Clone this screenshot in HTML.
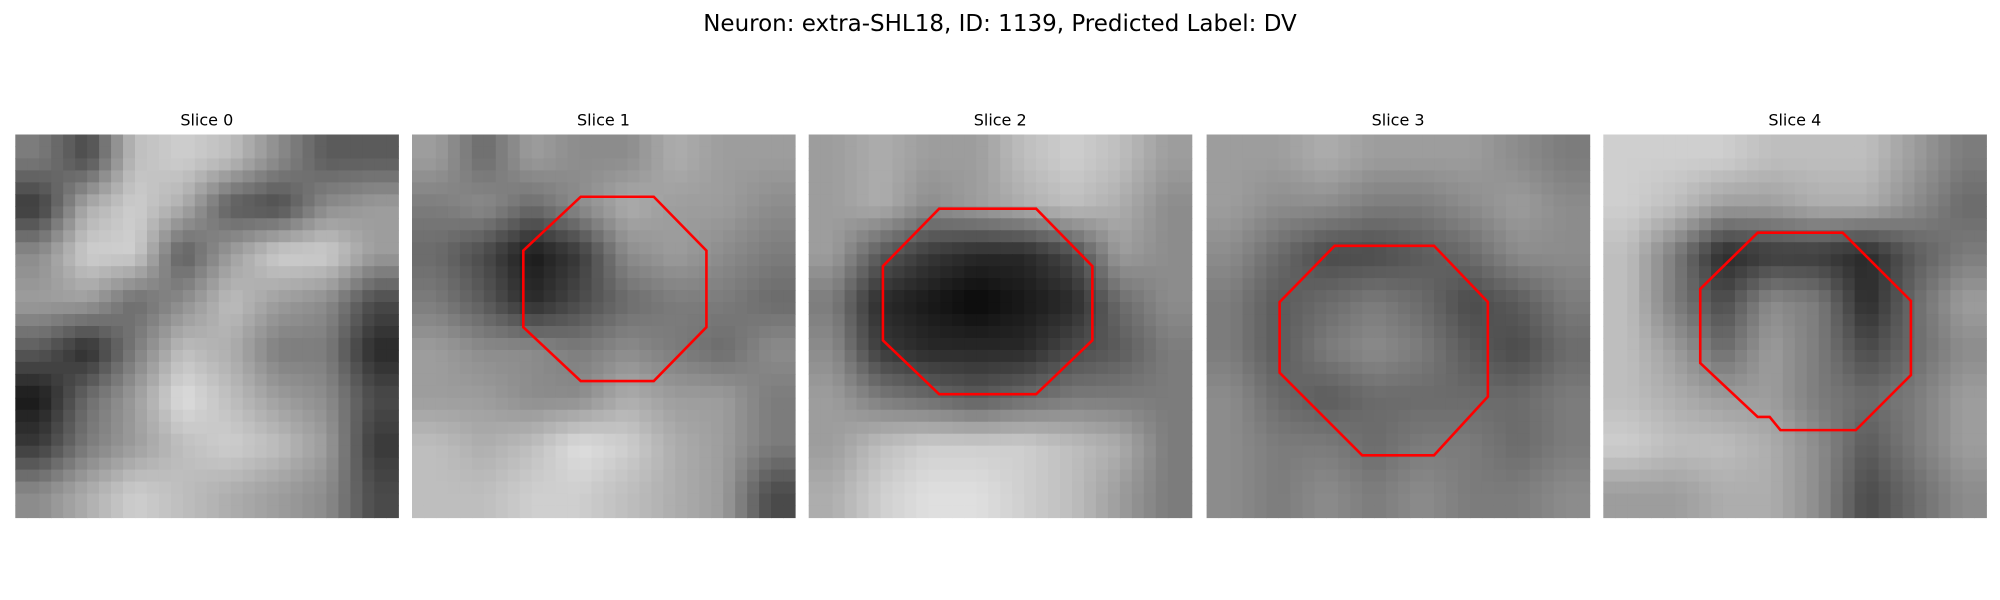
<!DOCTYPE html>
<html><head><meta charset="utf-8"><style>
html,body{margin:0;padding:0;background:#fff;width:2000px;height:600px;overflow:hidden;font-family:"Liberation Sans","DejaVu Sans",sans-serif;}
</style></head><body>
<svg id="fig" width="2000" height="600" xmlns="http://www.w3.org/2000/svg">
<text x="1000" y="31" text-anchor="middle" font-size="23" font-family="DejaVu Sans, Liberation Sans, sans-serif">Neuron: extra-SHL18, ID: 1139, Predicted Label: DV</text>
</svg>
<script>
const sliceTitles = ["Slice 0","Slice 1","Slice 2","Slice 3","Slice 4"];
const map0 = [[0.5,0.35,0.7,0.75,0.7,0.55,0.4,0.4],[0.3,0.65,0.75,0.65,0.4,0.35,0.55,0.6],[0.55,0.75,0.75,0.4,0.6,0.75,0.75,0.6],[0.6,0.6,0.45,0.55,0.7,0.6,0.55,0.35],[0.4,0.25,0.5,0.7,0.65,0.5,0.5,0.25],[0.2,0.45,0.6,0.8,0.7,0.6,0.55,0.35],[0.3,0.5,0.6,0.7,0.75,0.7,0.6,0.3],[0.55,0.65,0.75,0.7,0.65,0.6,0.55,0.35]];
const map1 = [[0.6,0.45,0.6,0.55,0.55,0.65,0.6,0.6],[0.5,0.55,0.45,0.55,0.65,0.6,0.6,0.55],[0.45,0.35,0.2,0.3,0.55,0.6,0.55,0.5],[0.5,0.4,0.25,0.35,0.45,0.5,0.5,0.45],[0.6,0.55,0.55,0.5,0.55,0.5,0.45,0.55],[0.6,0.6,0.55,0.55,0.65,0.6,0.6,0.5],[0.7,0.65,0.7,0.8,0.75,0.65,0.6,0.5],[0.7,0.7,0.75,0.75,0.7,0.65,0.6,0.35]];
const map2 = [[0.6,0.65,0.6,0.6,0.7,0.75,0.7,0.6],[0.6,0.65,0.55,0.6,0.65,0.7,0.65,0.55],[0.6,0.4,0.3,0.25,0.25,0.35,0.6,0.55],[0.5,0.25,0.2,0.15,0.2,0.25,0.45,0.55],[0.55,0.3,0.25,0.25,0.25,0.35,0.4,0.5],[0.6,0.5,0.45,0.4,0.45,0.5,0.5,0.5],[0.6,0.7,0.75,0.75,0.75,0.7,0.65,0.5],[0.65,0.75,0.8,0.8,0.75,0.7,0.6,0.5]];
const map3 = [[0.6,0.6,0.65,0.6,0.6,0.6,0.55,0.5],[0.6,0.55,0.55,0.5,0.5,0.55,0.6,0.55],[0.55,0.45,0.35,0.35,0.4,0.45,0.55,0.55],[0.5,0.4,0.45,0.5,0.45,0.35,0.4,0.5],[0.5,0.4,0.5,0.55,0.5,0.4,0.35,0.45],[0.55,0.45,0.4,0.45,0.45,0.45,0.45,0.5],[0.55,0.5,0.5,0.45,0.5,0.5,0.45,0.5],[0.55,0.5,0.55,0.5,0.55,0.5,0.5,0.55]];
const map4 = [[0.75,0.75,0.75,0.7,0.7,0.7,0.6,0.5],[0.75,0.7,0.6,0.6,0.65,0.65,0.55,0.45],[0.7,0.5,0.25,0.3,0.3,0.25,0.4,0.5],[0.7,0.5,0.35,0.55,0.5,0.25,0.45,0.6],[0.7,0.6,0.45,0.6,0.5,0.35,0.45,0.55],[0.7,0.65,0.6,0.6,0.5,0.45,0.5,0.6],[0.75,0.7,0.7,0.65,0.55,0.4,0.5,0.6],[0.6,0.6,0.65,0.65,0.55,0.35,0.45,0.55]];
const maps = [map0,map1,map2,map3,map4];
const contour1 = [[14.1,5.2],[20.2,5.2],[24.6,9.7],[24.6,16.1],[20.2,20.6],[14.1,20.6],[9.3,16.1],[9.3,9.7]];
const contour2 = [[10.9,6.2],[19.0,6.2],[23.7,11.0],[23.7,17.2],[19.0,21.7],[10.9,21.7],[6.2,17.2],[6.2,11.0]];
const contour3 = [[10.7,9.3],[19.0,9.3],[23.5,14.0],[23.5,21.9],[19.0,26.8],[13.0,26.8],[6.1,19.9],[6.1,14.0]];
const contour4 = [[12.9,8.2],[20.0,8.2],[25.7,13.9],[25.7,20.1],[21.1,24.7],[14.8,24.7],[13.9,23.6],[12.9,23.6],[8.1,19.1],[8.1,12.9]];
const contours = [null,contour1,contour2,contour3,contour4];

const NS = "http://www.w3.org/2000/svg";
const fig = document.getElementById('fig');
const panelX = [15.3, 412, 808.7, 1206.6, 1603.3];
const panelY = 134.5, size = 383, N = 32;
const sc = v => size * v / N;
function sample(m, x, y) {
  const fx = Math.min(Math.max((x+0.5)/4 - 0.5, 0), 7), fy = Math.min(Math.max((y+0.5)/4 - 0.5, 0), 7);
  const x0 = Math.floor(fx), y0 = Math.floor(fy), x1 = Math.min(x0+1,7), y1 = Math.min(y0+1,7);
  const tx = fx-x0, ty = fy-y0;
  return (m[y0][x0]*(1-tx)+m[y0][x1]*tx)*(1-ty)+(m[y1][x0]*(1-tx)+m[y1][x1]*tx)*ty;
}
maps.forEach((m, p) => {
  const g = document.createElementNS(NS,'g');
  
  
  g.setAttribute('transform', `translate(${panelX[p]},${panelY})`);
  fig.appendChild(g);
  const t = document.createElementNS(NS,'text');
  
  
  t.setAttribute('x', size/2); t.setAttribute('y', -9);
  t.setAttribute('text-anchor','middle'); t.setAttribute('font-size','16');
  t.setAttribute('font-family','DejaVu Sans, Liberation Sans, sans-serif');
  t.textContent = sliceTitles[p];
  g.appendChild(t);
  for (let y=0;y<N;y++) for (let x=0;x<N;x++) {
    const s = 0.55 + (sample(m,x,y) - 0.55) * 1.3;
    const v = Math.round(255*Math.max(0,Math.min(1,s)));
    const r = document.createElementNS(NS,'rect');
    
    
    r.setAttribute('x', sc(x)); r.setAttribute('y', sc(y));
    r.setAttribute('width', sc(1)+0.6); r.setAttribute('height', sc(1)+0.6);
    r.setAttribute('fill', `rgb(${v},${v},${v})`);
    g.appendChild(r);
  }
  const c = contours[p];
  if (c) {
    const pl = document.createElementNS(NS,'polygon');
    
    
    pl.setAttribute('points', c.map(q => sc(q[0])+','+sc(q[1])).join(' '));
    pl.setAttribute('fill','none'); pl.setAttribute('stroke','#ff0000'); pl.setAttribute('stroke-width','2.6');
    g.appendChild(pl);
  }
});
</script>
</body></html>
